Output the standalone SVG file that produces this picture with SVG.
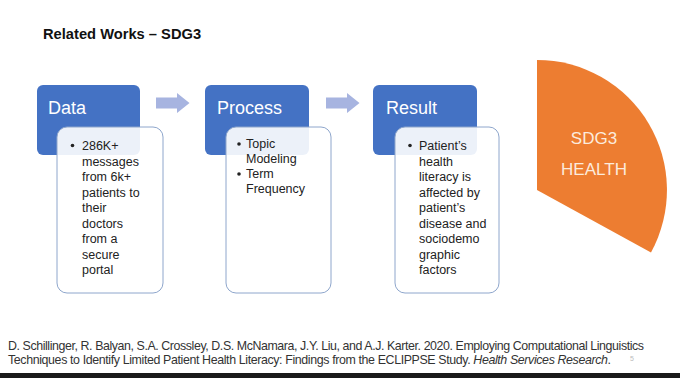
<svg xmlns="http://www.w3.org/2000/svg" width="680" height="378" viewBox="0 0 680 378">
<style>
text{font-family:"Liberation Sans",Arial,sans-serif}
.title{font-size:14.7px;font-weight:bold;fill:#111}
.hdr{fill:#4472C4}
.lbl{font-size:18px;fill:#fff}
.card{fill:#fff;fill-opacity:0.9;stroke:#8EA6CC;stroke-width:1}
.b{font-size:12.5px;fill:#222}
.dot{fill:#222}
.arr{fill:#A7B4E0}
.sdg{font-size:17px;fill:#FCEBDD;text-anchor:middle}
.ft{font-size:12.4px;fill:#333}
</style>
<rect width="680" height="378" fill="#fff"/>
<text class="title" x="43" y="39">Related Works – SDG3</text>

<g id="connectors">
<path class="arr" d="M156,97.5 H177 V93 L189.5,103 L177,113 V108.5 H156 Z"/>
<path class="arr" d="M326,97.5 H347 V93 L359.5,103 L347,113 V108.5 H326 Z"/>
</g>

<g id="data">
<rect class="hdr" x="37" y="85" width="103" height="70" rx="6"/>
<text class="lbl" x="48" y="114">Data</text>
<rect class="card" x="57" y="127" width="106" height="166" rx="10"/>
<circle class="dot" cx="72.5" cy="145.5" r="1.8"/>
<text class="b" x="82">
<tspan x="82" y="150">286K+</tspan>
<tspan x="82" y="165.5">messages</tspan>
<tspan x="82" y="181">from 6k+</tspan>
<tspan x="82" y="196.5">patients to</tspan>
<tspan x="82" y="212">their</tspan>
<tspan x="82" y="227.5">doctors</tspan>
<tspan x="82" y="243">from a</tspan>
<tspan x="82" y="258.5">secure</tspan>
<tspan x="82" y="274">portal</tspan>
</text>
</g>

<g id="process">
<rect class="hdr" x="205" y="85" width="104" height="70" rx="6"/>
<text class="lbl" x="217" y="114">Process</text>
<rect class="card" x="226" y="127" width="105" height="166" rx="10"/>
<circle class="dot" cx="239" cy="144" r="1.8"/>
<circle class="dot" cx="239" cy="174" r="1.8"/>
<text class="b" x="246">
<tspan x="246" y="148">Topic</tspan>
<tspan x="246" y="163">Modeling</tspan>
<tspan x="246" y="178">Term</tspan>
<tspan x="246" y="193">Frequency</tspan>
</text>
</g>

<g id="result">
<rect class="hdr" x="373" y="85" width="104" height="70" rx="6"/>
<text class="lbl" x="386" y="114">Result</text>
<rect class="card" x="395" y="127" width="104" height="166" rx="10"/>
<circle class="dot" cx="410" cy="145.5" r="1.8"/>
<text class="b" x="419">
<tspan x="419" y="150">Patient’s</tspan>
<tspan x="419" y="165.5">health</tspan>
<tspan x="419" y="181">literacy is</tspan>
<tspan x="419" y="196.5">affected by</tspan>
<tspan x="419" y="212">patient’s</tspan>
<tspan x="419" y="227.5">disease and</tspan>
<tspan x="419" y="243">sociodemo</tspan>
<tspan x="419" y="258.5">graphic</tspan>
<tspan x="419" y="274">factors</tspan>
</text>
</g>

<g id="sdg3">
<path d="M537,190 L537,60 A130,130 0 0 1 651,252.4 Z" fill="#ED7D31"/>
<text class="sdg" x="594" y="144">SDG3</text>
<text class="sdg" x="594" y="175">HEALTH</text>
</g>

<text class="ft" x="8" y="350" textLength="636" lengthAdjust="spacing">D. Schillinger, R. Balyan, S.A. Crossley, D.S. McNamara, J.Y. Liu, and A.J. Karter. 2020. Employing Computational Linguistics</text>
<text class="ft" x="8" y="364" textLength="603" lengthAdjust="spacing">Techniques to Identify Limited Patient Health Literacy: Findings from the ECLIPPSE Study. <tspan font-style="italic">Health Services Research</tspan>.</text>
<text x="630" y="361" font-size="7" fill="#bbb">5</text>
<rect x="0" y="373" width="680" height="5" fill="#1a1a1a"/>
</svg>
